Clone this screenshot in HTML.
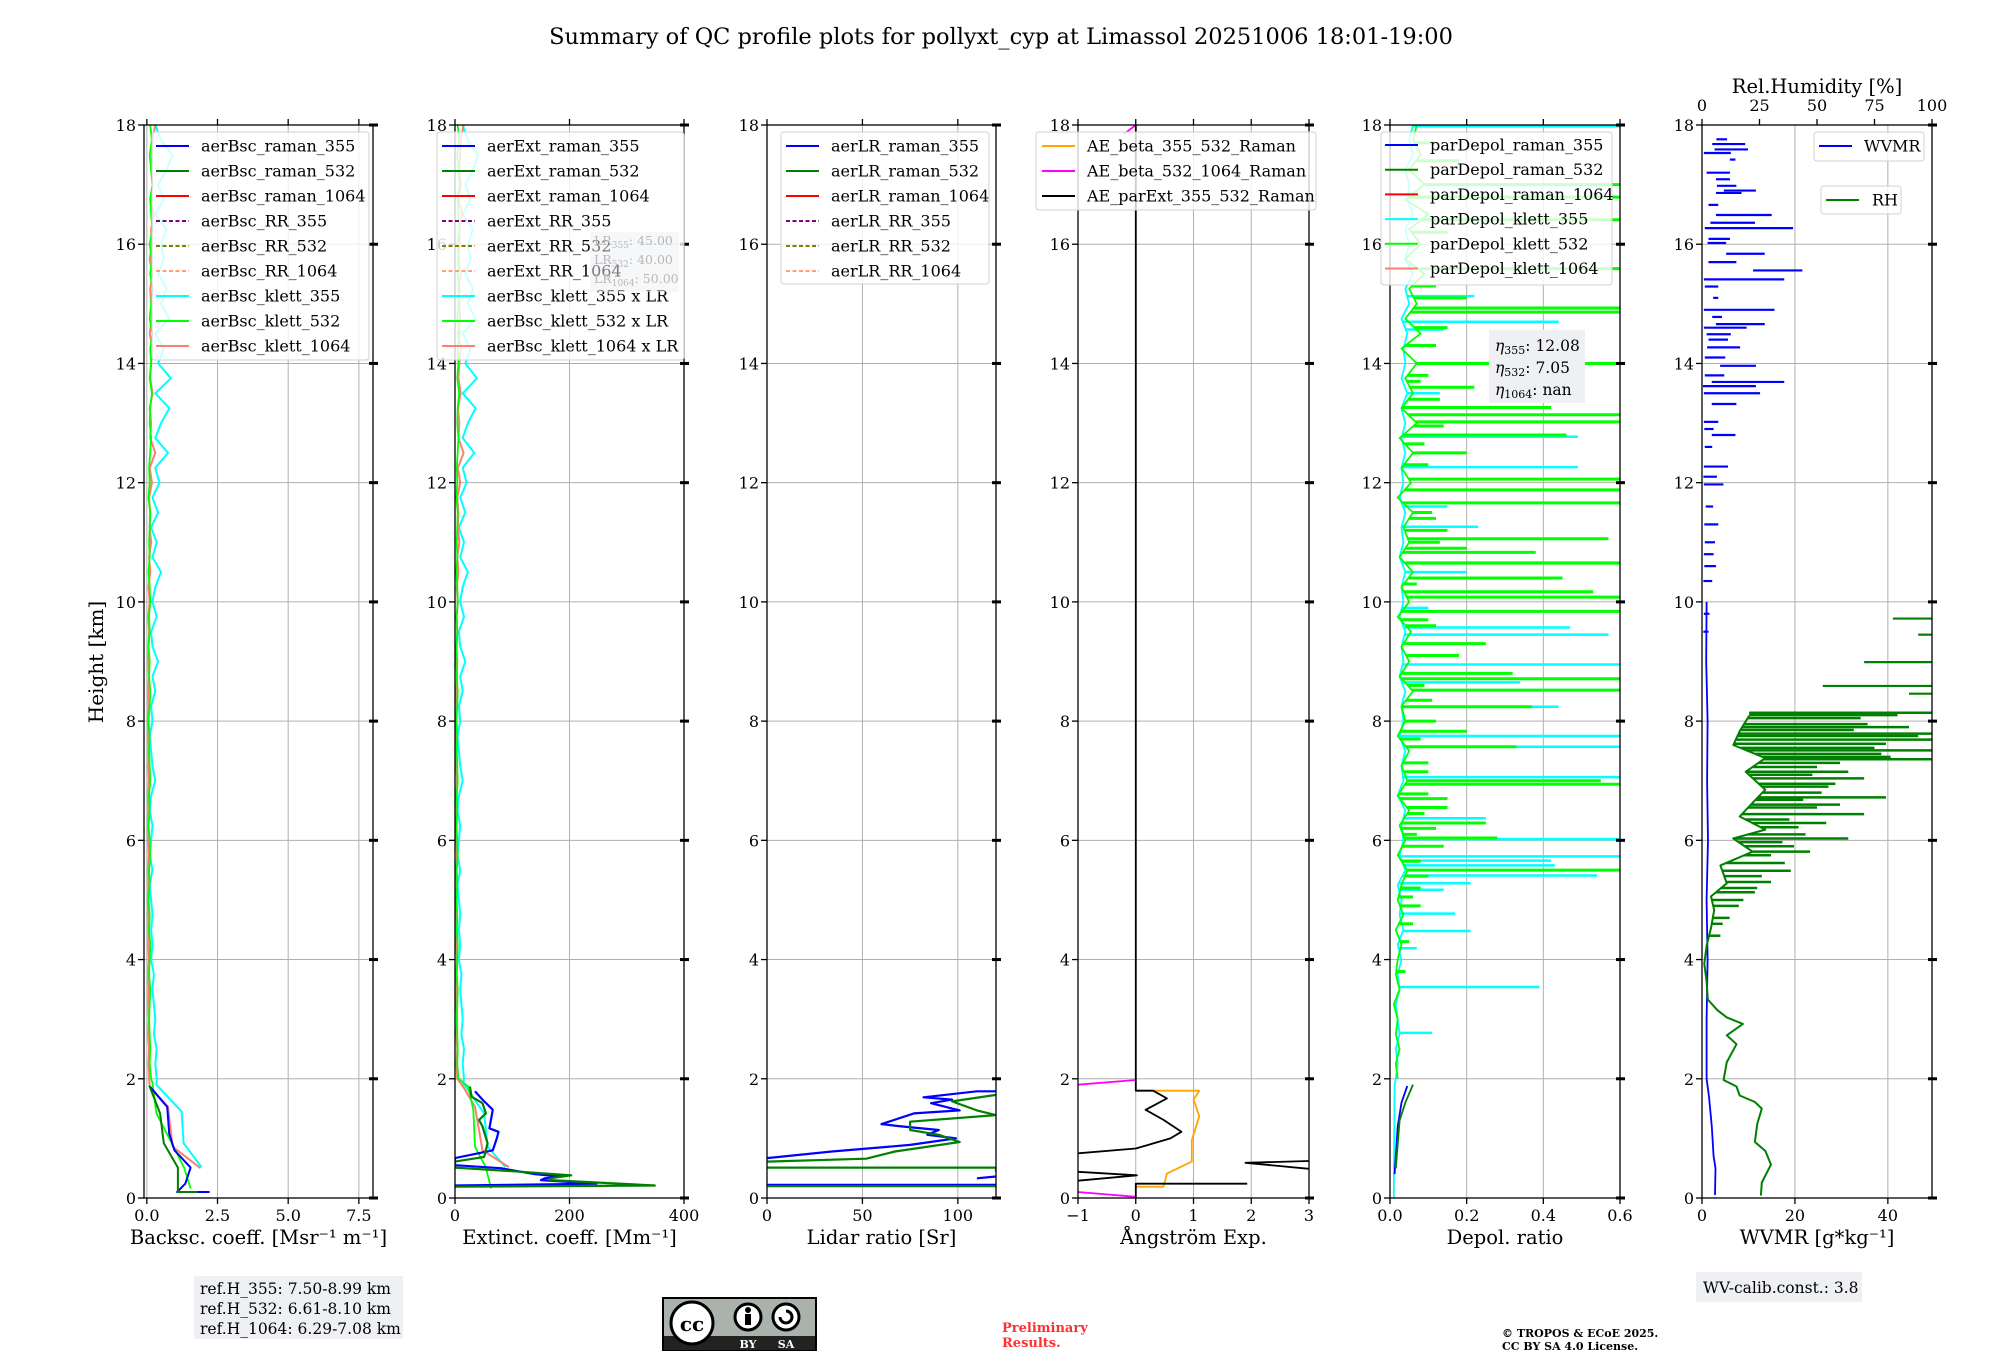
<!DOCTYPE html>
<html><head><meta charset="utf-8">
<style>
html,body{margin:0;padding:0;background:#fff;}
svg text{font-family:"DejaVu Serif","Liberation Serif",serif;}
</style></head>
<body>
<svg id="fig" width="2000" height="1360" viewBox="0 0 2000 1360" xmlns="http://www.w3.org/2000/svg">
<rect width="2000" height="1360" fill="#fff"/>
<text x="1001" y="44" font-size="22.5" text-anchor="middle">Summary of QC profile plots for pollyxt_cyp at Limassol 20251006 18:01-19:00</text>
<text x="0" y="0" font-size="20" text-anchor="middle" transform="translate(103,662) rotate(-90)">Height [km]</text>
<g id="plots"></g>
<rect x="194" y="1276" width="209" height="63" fill="#eef0f4"/>
<text x="200" y="1294" font-size="15.5">ref.H_355: 7.50-8.99 km</text>
<text x="200" y="1314" font-size="15.5">ref.H_532: 6.61-8.10 km</text>
<text x="200" y="1334" font-size="15.5">ref.H_1064: 6.29-7.08 km</text>
<g transform="translate(0,-9)">
<rect x="662" y="1306" width="155" height="54" fill="#000"/>
<rect x="664" y="1308" width="151" height="37" fill="#abb1ab"/>
<rect x="664" y="1345" width="151" height="14" fill="#222"/>
<circle cx="692" cy="1332" r="21" fill="#fff" stroke="#000" stroke-width="3"/>
<text x="692" y="1340" font-size="20" font-weight="bold" text-anchor="middle" font-family="Liberation Sans">cc</text>
<circle cx="748" cy="1326" r="13" fill="#fff" stroke="#000" stroke-width="3"/>
<rect x="745" y="1323" width="6" height="11" fill="#000"/><circle cx="748" cy="1319" r="3" fill="#000"/>
<circle cx="786" cy="1326" r="13" fill="#fff" stroke="#000" stroke-width="3"/>
<path d="M780 1326 a6 6 0 1 0 6 -6" fill="none" stroke="#000" stroke-width="3"/>
<text x="748" y="1357" font-size="11" fill="#fff" font-weight="bold" text-anchor="middle" font-family="Liberation Sans">BY</text>
<text x="786" y="1357" font-size="11" fill="#fff" font-weight="bold" text-anchor="middle" font-family="Liberation Sans">SA</text>
</g>
<text x="1002" y="1332" font-size="13" font-weight="bold" fill="#ff3030">Preliminary</text>
<text x="1002" y="1347" font-size="13" font-weight="bold" fill="#ff3030">Results.</text>
<text x="1502" y="1337" font-size="11" font-weight="bold">© TROPOS &amp; ECoE 2025.</text>
<text x="1502" y="1350" font-size="11" font-weight="bold">CC BY SA 4.0 License.</text>
<rect x="1696" y="1272" width="166" height="30" fill="#eef0f4"/>
<text x="1703" y="1293" font-size="15.5">WV-calib.const.: 3.8</text>
</svg>
<script>
// ---------------- DATA ----------------
const upH = [2,2.25,2.5,2.75,3,3.25,3.5,3.75,4,4.25,4.5,4.75,5,5.25,5.5,5.75,6,6.25,6.5,6.75,7,7.25,7.5,7.75,8,8.25,8.5,8.75,9,9.25,9.5,9.75,10,10.25,10.5,10.75,11,11.25,11.5,11.75,12,12.25,12.5,12.75,13,13.25,13.5,13.75,14,14.25,14.5,14.75,15,15.25,15.5,15.75,16,16.25,16.5,16.75,17,17.25,17.5,17.75,18];
const klett355Up = [0.35,0.3,0.35,0.25,0.3,0.25,0.2,0.25,0.15,0.2,0.15,0.2,0.15,0.1,0.2,0.1,0.15,0.2,0.1,0.15,0.3,0.2,0.15,0.1,0.2,0.15,0.3,0.2,0.4,0.2,0.15,0.35,0.2,0.3,0.5,0.2,0.35,0.15,0.4,0.2,0.45,0.3,0.75,0.3,0.5,0.8,0.3,0.85,0.4,0.6,0.3,0.8,0.5,0.7,0.4,0.6,0.5,0.7,0.3,0.6,0.4,0.7,0.9,0.5,0.3];
const klett532Up = [0.15,0.1,0.12,0.1,0.08,0.1,0.12,0.08,0.1,0.12,0.08,0.1,0.06,0.1,0.08,0.12,0.1,0.06,0.1,0.08,0.12,0.1,0.08,0.1,0.06,0.1,0.12,0.08,0.1,0.06,0.1,0.08,0.12,0.1,0.06,0.1,0.08,0.1,0.12,0.06,0.1,0.08,0.12,0.15,0.1,0.12,0.18,0.1,0.15,0.12,0.2,0.1,0.15,0.2,0.12,0.18,0.1,0.2,0.15,0.12,0.2,0.15,0.1,0.18,0.12];
const klett1064Up = [0.08,0.06,0.08,0.05,0.07,0.05,0.06,0.05,0.07,0.05,0.06,0.05,0.04,0.06,0.05,0.07,0.05,0.04,0.06,0.05,0.07,0.05,0.06,0.05,0.04,0.06,0.05,0.07,0.05,0.06,0.08,0.05,0.1,0.06,0.12,0.08,0.15,0.1,0.12,0.08,0.18,0.1,0.3,0.12,0.15,0.1,0.2,0.12,0.15,0.2,0.1,0.18,0.15,0.12,0.2,0.1,0.18,0.15,0.25,0.12,0.2,0.15,0.18,0.2,0.3];
const bsc355H = [0.1,0.1,0.24,0.51,0.8,1.08,1.53,1.7,1.88];
const bsc355V = [2.22,1.07,1.36,1.55,0.98,0.79,0.72,0.41,0.09];
const bsc532H = [0.1,0.1,0.51,0.92,1.42,1.88];
const bsc532V = [1.8,1.1,1.1,0.6,0.47,0.09];
const klett355LoH = [0.52,0.92,1.45,1.9], klett355LoV = [1.93,1.3,1.23,0.34];
const klett532LoH = [0.16,0.51,0.9,1.42,1.93], klett532LoV = [1.55,1.32,0.9,0.34,0.2];
const klett1064LoH = [0.5,0.86,1.53,1.87], klett1064LoV = [1.9,0.91,0.75,0.1];
const lrKlett = [45,40,50];
const ext355H = [0.21,0.24,0.3,0.33,0.36,0.4,0.5,0.55,0.67,0.8,1.0,1.11,1.17,1.48,1.65,1.79];
const ext355V = [0,247,150,157,184,140,80,0,0,66,73,76,60,66,48,35];
const ext532H = [0.19,0.21,0.3,0.33,0.38,0.45,0.51,0.61,0.69,0.92,1.2,1.31,1.42,1.59,1.7,1.87];
const ext532V = [0,349,166,166,203,100,0,0,51,57,48,42,54,48,29,26];
const extK355LoH = [0.52,0.86,1.42,1.93], extK355LoV = [88,57,51,14];
const extK532LoH = [0.16,0.51,0.86,1.48,1.87], extK532LoV = [63,54,35,32,23];
const extK1064LoH = [0.52,0.8,1.53,1.87], extK1064LoV = [94,48,35,14];
const lr355H = [0.22,0.22,null,0.33,0.36,null,0.67,0.78,0.89,1.0,1.06,1.14,1.2,1.24,1.42,1.47,1.59,1.65,1.69,1.79,1.79];
const lr355V = [120,0,null,110,120,null,0,34,75,99,84,90,71,60,77,101,86,97,82,110,120];
const lr532H = [0.2,0.2,null,0.51,0.51,0.44,null,0.61,0.66,0.78,0.94,1.06,1.14,1.28,1.39,1.47,1.62,1.73];
const lr532V = [0,120,null,0,120,120,null,0,52,67,101,90,75,75,120,110,97,120];
const aeParH = [0,0.24,0.24,null,0.44,0.38,0.29,null,0.75,0.83,1.0,1.11,1.31,1.48,1.67,1.8,1.8,18,null,0.62,0.59,0.49];
const aeParV = [0,0,1.93,null,-1,0.02,-1,null,-1,0,0.6,0.79,0.48,0.17,0.54,0.3,0,0,null,3,1.9,3];
const aeBscH = [0.19,0.19,0.41,0.61,0.97,1.37,1.65,1.8,1.8];
const aeBscV = [0,0.48,0.54,0.97,0.97,1.1,1.0,1.1,0];
const aeBsc2H = [0.1,0.02,null,1.9,1.98,null,17.85,18];
const aeBsc2V = [-1,0,null,-1,0,null,-0.2,0];
const dep355RH = [0.4,1.2,1.6,1.88], dep355RV = [0.012,0.02,0.03,0.045];
const dep532RH = [0.5,1.3,1.6,1.9], dep532RV = [0.015,0.025,0.04,0.06];
const depCyanLoH = [0,1.9], depCyanLoV = [0.01,0.012];
const depLimeBase = [0.02,0.015,0.025,0.015,0.02,0.01,0.025,0.015,0.02,0.03,0.015,0.035,0.02,0.03,0.045,0.02,0.04,0.025,0.05,0.02,0.045,0.03,0.05,0.02,0.04,0.03,0.06,0.025,0.05,0.03,0.055,0.02,0.05,0.03,0.06,0.025,0.05,0.035,0.06,0.02,0.055,0.03,0.06,0.025,0.07,0.03,0.06,0.04,0.07,0.03,0.08,0.04,0.07,0.05,0.09,0.04,0.08,0.05,0.1,0.04,0.09,0.05,0.08,0.06,0.07];
const depCyanBase = [0.015,0.02,0.015,0.025,0.02,0.015,0.025,0.02,0.03,0.02,0.035,0.025,0.03,0.02,0.04,0.025,0.035,0.03,0.04,0.02,0.035,0.03,0.04,0.025,0.035,0.03,0.04,0.025,0.035,0.03,0.04,0.025,0.035,0.03,0.04,0.025,0.035,0.03,0.04,0.025,0.035,0.03,0.04,0.03,0.04,0.03,0.045,0.03,0.04,0.035,0.045,0.03,0.05,0.04,0.06,0.04,0.05,0.04,0.06,0.045,0.05,0.04,0.06,0.05,0.06];
const depLimeSpikeH = [14.93,14.86,14.0,13.26,13.14,13.02,12.8,12.06,11.88,11.66,11.06,10.83,10.65,10.4,10.17,10.08,9.84,17.0,16.79,15.59,16.41,8.71,8.52,8.8,8.24,7.83,7.57,7.0,6.94,6.78,6.55,6.29,6.04,5.5,5.2,14.6,14.3,13.6,13.4,12.5,12.3,11.4,11.2,10.9,9.3,9.1,8.0,7.3,6.7,6.2,5.9,5.4,4.9,4.6,4.3,3.8,15.3,15.1,16.2,17.4,17.7,13.8,13.7,12.95,12.65,11.5,11.0,10.3,9.7,9.6,8.6,8.35,7.7,7.15,6.45,6.1,5.65,5.05];
const depLimeSpikeV = [0.6,0.6,0.6,0.42,0.6,0.6,0.46,0.6,0.6,0.6,0.57,0.38,0.6,0.45,0.53,0.6,0.6,0.6,0.6,0.6,0.6,0.6,0.6,0.32,0.37,0.2,0.33,0.55,0.6,0.1,0.15,0.25,0.28,0.6,0.08,0.15,0.12,0.22,0.13,0.2,0.1,0.12,0.15,0.2,0.25,0.18,0.12,0.1,0.15,0.12,0.14,0.1,0.08,0.06,0.05,0.04,0.12,0.2,0.15,0.18,0.12,0.1,0.08,0.14,0.09,0.11,0.13,0.07,0.1,0.12,0.09,0.11,0.08,0.1,0.09,0.07,0.08,0.06];
const depCyanSpikeH = [17.98,15.13,14.7,14.57,12.77,12.26,11.26,10.66,9.57,9.45,8.95,8.65,8.24,7.75,7.57,7.06,6.37,6.02,5.73,5.66,5.58,5.41,5.28,5.17,4.77,4.48,3.54,2.77,4.19,10.5,13.5,11.6,9.9];
const depCyanSpikeV = [0.6,0.22,0.44,0.14,0.49,0.49,0.23,0.6,0.47,0.57,0.6,0.34,0.44,0.6,0.6,0.6,0.25,0.6,0.6,0.42,0.43,0.54,0.21,0.14,0.17,0.21,0.39,0.11,0.07,0.2,0.13,0.15,0.1];
const wvH = [0.05,0.5,0.7,1.2,1.7,2.0,3,4,5,6,7,8,9,10];
const wvV = [2.8,2.9,2.5,2.1,1.5,1.0,1.0,1.2,1.0,1.3,1.1,1.2,0.9,1.0];
const wvSegH = [17.76,17.68,17.59,17.53,17.42,17.2,17.09,16.98,16.9,16.86,16.66,16.49,16.36,16.27,16.09,16.02,15.84,15.7,15.56,15.41,15.29,15.1,14.9,14.78,14.66,14.6,14.49,14.4,14.27,14.1,13.96,13.8,13.69,13.62,13.5,13.32,13.02,12.8,12.27,11.97,12.9,12.6,12.1,11.6,11.3,11.0,10.8,10.6,10.35,9.8,9.5];
const wvSegA = [3.1,2.2,2.7,0.4,6,1,3,3.2,4.7,3,1.4,3,1.8,0.6,1.4,1.2,5.2,1.4,11,0.4,0.6,2.4,0.4,2.2,3,0.4,1,1.4,1.1,0.6,3.9,0.6,2.1,0.2,0.4,2.1,0.4,2.1,0.4,0.4,0.5,0.6,0.3,0.8,0.5,0.6,0.4,0.5,0.3,0.4,0.3];
const wvSegB = [5.4,9.3,9.9,6.2,7.2,6,6,7.4,11.6,8.5,3.5,15,11.4,19.6,6,5.2,13.5,7.4,21.6,17.7,3.5,3.5,15.6,4.3,13.5,9.6,6.2,5.6,8.2,5,11.6,4.8,17.7,11.6,12.5,7.4,3.5,7.2,5.6,4.6,2.5,2.2,3.2,2.4,3.5,2.8,2.5,3.0,2.2,1.6,1.4];
const rhH = [0.04,0.26,0.56,0.79,0.94,1.24,1.5,1.61,1.72,1.87,1.98,2.28,2.58,2.73,2.92,3.03,3.15,3.33,3.63,3.93,4.23,4.53,4.83,5.06,5.28,5.58,5.81,6.03,6.18,6.4,6.63,6.85,7.15,7.38,7.6,7.83,8.09];
const rhV = [25.6,26,30,27.5,23,24,26,23,16.4,15,9.4,10.8,15,10.8,17.8,10.8,6.7,2.5,2,1,2,3.9,5.3,3.9,10.8,8,22,13.6,27.5,16.4,22,27.5,19,27.5,13.6,16.4,20.5];
const rhSpikeH = [8.14,8.05,7.79,7.69,7.51,7.36,7.4,7.04,7.15,6.72,6.44,6.03,5.81,5.49,5.13,6.29,7.23,6.6,6.1,5.9,5.3,7.9,7.55,6.9,4.9,4.7,8.1,7.95,7.85,7.75,7.62,7.45,7.3,7.1,6.95,6.8,6.68,6.55,6.35,6.22,5.97,5.75,5.62,5.4,5.2,5.0,4.6,4.4];
const rhSpikeV = [100,69,100,100,100,100,82,70.5,63.6,80,70.5,63.6,47,38.6,23,54,50,60,45,40,30,90,75,55,16,12,85,72,66,94,80,78,60,48,58,52,44,50,38,42,35,30,36,26,24,18,9,8];
const rhSegH = [8.59,8.46,8.99,9.72,9.45];
const rhSegA = [52.5,90,70.5,83,94];
const rhSegB = [100,100,100,100,100];

// ---------------- AXES ----------------
const NS = 'http://www.w3.org/2000/svg';
const Y0 = 1198, PXKM = 1073/18;
const yH = h => Y0 - h*PXKM;
const AX = [
 {x0:144,w:229,min:-0.1,max:8.0,ticks:[0,2.5,5,7.5],lab:['0.0','2.5','5.0','7.5'],name:'backscatter'},
 {x0:455,w:229,min:0,max:400,ticks:[0,200,400],lab:['0','200','400'],name:'extinction'},
 {x0:767,w:229,min:0,max:120,ticks:[0,50,100],lab:['0','50','100'],name:'lidar-ratio'},
 {x0:1078,w:231,min:-1,max:3,ticks:[-1,0,1,2,3],lab:['\u22121','0','1','2','3'],name:'angstrom'},
 {x0:1390,w:230,min:0,max:0.6,ticks:[0,0.2,0.4,0.6],lab:['0.0','0.2','0.4','0.6'],name:'depol'},
 {x0:1702,w:230,min:0,max:49.5,ticks:[0,20,40],lab:['0','20','40'],name:'wvmr'}
];
const XLAB = ['Backsc. coeff. [Msr\u207B\u00B9 m\u207B\u00B9]','Extinct. coeff. [Mm\u207B\u00B9]','Lidar ratio [Sr]','\u00C5ngstr\u00F6m Exp.','Depol. ratio','WVMR [g*kg\u207B\u00B9]'];
const root = document.getElementById('plots');
function mk(tag, attrs, parent){
  const e = document.createElementNS(NS, tag);
  for (const k in attrs) e.setAttribute(k, attrs[k]);
  (parent||root).appendChild(e); return e;
}
function xf(a, v){ return a.x0 + (v - a.min)/(a.max - a.min)*a.w; }

const defs = mk('defs', {});
const layers = [];
AX.forEach((a,i)=>{
  const cp = mk('clipPath',{id:'cp'+i},defs);
  mk('rect',{x:a.x0,y:yH(18),width:a.w,height:Y0-yH(18)},cp);
  const g = mk('g',{});
  
  
  for (let h=0; h<=18; h+=2){
    const l = mk('line',{x1:a.x0,x2:a.x0+a.w,y1:yH(h),y2:yH(h),stroke:'#b0b0b0','stroke-width':1},g);
    
    
  }
  a.ticks.forEach(t=>{
    const x = xf(a,t);
    const l = mk('line',{x1:x,x2:x,y1:yH(18),y2:Y0,stroke:'#b0b0b0','stroke-width':1},g);
    
    
  });
  const data = mk('g',{'clip-path':'url(#cp'+i+')'},g);
  
  
  layers.push({g, data});
});

function line(i, hs, vs, color, w, dash, name){
  const a = AX[i]; let d=''; let pen=false;
  for (let k=0;k<hs.length;k++){
    if (hs[k]===null || vs[k]===null){ pen=false; continue; }
    d += (pen?'L':'M') + xf(a,vs[k]).toFixed(1)+' '+yH(hs[k]).toFixed(1)+' ';
    pen = true;
  }
  const p = mk('path',{d, fill:'none', stroke:color,'stroke-width':w,'stroke-linejoin':'round'}, layers[i].data);
  if (dash) p.setAttribute('stroke-dasharray', dash);
  
  
  return p;
}
function seg(i, h, v1, v2, color, w, name){
  const a = AX[i];
  const p = mk('line',{x1:xf(a,v1),x2:xf(a,v2),y1:yH(h),y2:yH(h),stroke:color,'stroke-width':w}, layers[i].data);
  
  
}
function interp(hs, vs, h){
  for (let k=1;k<hs.length;k++){
    if (vs[k]===null||vs[k-1]===null) continue;
    if (h>=hs[k-1] && h<=hs[k]) return vs[k-1] + (vs[k]-vs[k-1])*(h-hs[k-1])/(hs[k]-hs[k-1]);
  }
  return vs[vs.length-1];
}

line(0, klett355LoH.concat(upH), klett355LoV.concat(klett355Up), '#00ffff', 2, null, 'klett-355-backscatter');
line(0, klett1064LoH.concat(upH), klett1064LoV.concat(klett1064Up), '#fa8072', 2, null, 'klett-1064-backscatter');
line(0, klett532LoH.concat(upH), klett532LoV.concat(klett532Up), '#00ff00', 1.8, null, 'klett-532-backscatter');
line(0, bsc355H, bsc355V, '#0000ff', 2, null, 'raman-355-backscatter');
line(0, bsc532H, bsc532V, '#008000', 2, null, 'raman-532-backscatter');

line(1, extK355LoH.concat(upH), extK355LoV.concat(klett355Up.map(v=>v*lrKlett[0])), '#00ffff', 2, null, 'klett-355-extinction');
line(1, extK1064LoH.concat(upH), extK1064LoV.concat(klett1064Up.map(v=>v*lrKlett[2])), '#fa8072', 2, null, 'klett-1064-extinction');
line(1, extK532LoH.concat(upH), extK532LoV.concat(klett532Up.map(v=>v*lrKlett[1])), '#00ff00', 1.8, null, 'klett-532-extinction');
line(1, ext355H, ext355V, '#0000ff', 2.2, null, 'raman-355-extinction');
line(1, ext532H, ext532V, '#008000', 2.2, null, 'raman-532-extinction');

line(2, lr355H, lr355V, '#0000ff', 2.2, null, 'raman-355-lidar-ratio');
line(2, lr532H, lr532V, '#008000', 2.2, null, 'raman-532-lidar-ratio');

line(3, aeBsc2H, aeBsc2V, '#ff00ff', 1.8, null, 'ae-beta-532-1064');
line(3, aeBscH, aeBscV, '#ffa500', 1.8, null, 'ae-beta-355-532');
line(3, aeParH, aeParV, '#000000', 1.8, null, 'ae-parext-355-532');

line(4, depCyanLoH.concat(upH), depCyanLoV.concat(depCyanBase), '#00ffff', 1.8, null, 'klett-355-depol');
depCyanSpikeH.forEach((h,k)=>seg(4, h, interp(upH,depCyanBase,h), depCyanSpikeV[k], '#00ffff', 2.5, 'klett-355-depol-spike'));
line(4, upH, depLimeBase, '#00ff00', 1.8, null, 'klett-532-depol');
depLimeSpikeH.forEach((h,k)=>seg(4, h, interp(upH,depLimeBase,h), depLimeSpikeV[k], '#00ff00', 3, 'klett-532-depol-spike'));
line(4, dep355RH, dep355RV, '#0000ff', 1.8, null, 'raman-355-depol');
line(4, dep532RH, dep532RV, '#008000', 1.8, null, 'raman-532-depol');

line(5, wvH, wvV, '#0000ff', 1.8, null, 'wvmr-profile');
wvSegH.forEach((h,k)=>seg(5, h, wvSegA[k], wvSegB[k], '#0000ff', 2.2, 'wvmr-segment'));
const rhScale = 49.5/100;
line(5, rhH, rhV.map(v=>v*rhScale), '#008000', 2, null, 'rh-profile');
rhSpikeH.forEach((h,k)=>seg(5, h, interp(rhH,rhV,h)*rhScale, rhSpikeV[k]*rhScale, '#008000', 2.5, 'rh-spike'));
rhSegH.forEach((h,k)=>seg(5, h, rhSegA[k]*rhScale, rhSegB[k]*rhScale, '#008000', 2.2, 'rh-segment'));

AX.forEach((a,i)=>{
  const g = layers[i].g;
  const fr = mk('rect',{x:a.x0,y:yH(18),width:a.w,height:Y0-yH(18),fill:'none',stroke:'#000','stroke-width':1.3},g);
  
  
  for (let h=0; h<=18; h+=2){
    mk('line',{x1:a.x0-6,x2:a.x0,y1:yH(h),y2:yH(h),stroke:'#000','stroke-width':1.3},g);
    mk('line',{x1:a.x0+a.w-4,x2:a.x0+a.w+5,y1:yH(h),y2:yH(h),stroke:'#000','stroke-width':3},g);
    const t = mk('text',{x:a.x0-8,y:yH(h)+6,'font-size':16,'text-anchor':'end'},g);
    t.textContent = String(h);
    
    
  }
  a.ticks.forEach((v,k)=>{
    const x = xf(a,v);
    mk('line',{x1:x,x2:x,y1:Y0,y2:Y0+6,stroke:'#000','stroke-width':1.3},g);
    if (i!==5) mk('line',{x1:x,x2:x,y1:yH(18)-6,y2:yH(18),stroke:'#000','stroke-width':1.3},g);
    const t = mk('text',{x:x,y:Y0+23,'font-size':16,'text-anchor':'middle'},g);
    t.textContent = a.lab[k];
    
    
  });
  const xl = mk('text',{x:a.x0+a.w/2,y:1244,'font-size':19.5,'text-anchor':'middle'},g);
  xl.textContent = XLAB[i];
  
  
});
[0,25,50,75,100].forEach(v=>{
  const x = 1702 + v/100*230;
  mk('line',{x1:x,x2:x,y1:yH(18)-6,y2:yH(18),stroke:'#000','stroke-width':1.3},layers[5].g);
  const t = mk('text',{x:x,y:111,'font-size':16,'text-anchor':'middle'},layers[5].g);
  t.textContent = String(v);
  
  
});
const rht = mk('text',{x:1817,y:93,'font-size':19.5,'text-anchor':'middle'},layers[5].g);
rht.textContent = 'Rel.Humidity [%]';



function legend(x, y, w, h, lx, tx, y0, dy, entries, name){
  const g = mk('g',{});
  
  
  mk('rect',{x, y, width:w, height:h, rx:3, fill:'#fff','fill-opacity':0.8, stroke:'#d0d0d0','stroke-width':1},g);
  entries.forEach((e,k)=>{
    const yy = y0 + k*dy;
    const l = mk('line',{x1:lx, x2:lx+33, y1:yy, y2:yy, stroke:e[1], 'stroke-width':2},g);
    if (e[2]) l.setAttribute('stroke-dasharray','4 2.5');
    const t = mk('text',{x:tx, y:yy+5.5, 'font-size':16},g);
    t.textContent = e[0];
    
    
  });
}
const C = {b:'#0000ff',g:'#008000',r:'#ff0000',p:'#800080',o:'#808000',ls:'#ffa07a',c:'#00ffff',l:'#00ff00',s:'#fa8072'};
legend(152,132,217,228,156,201,146,25,[['aerBsc_raman_355',C.b],['aerBsc_raman_532',C.g],['aerBsc_raman_1064',C.r],['aerBsc_RR_355',C.p,1],['aerBsc_RR_532',C.o,1],['aerBsc_RR_1064',C.ls,1],['aerBsc_klett_355',C.c],['aerBsc_klett_532',C.l],['aerBsc_klett_1064',C.s]],'backscatter-legend');
legend(437,132,247,228,442,487,146,25,[['aerExt_raman_355',C.b],['aerExt_raman_532',C.g],['aerExt_raman_1064',C.r],['aerExt_RR_355',C.p,1],['aerExt_RR_532',C.o,1],['aerExt_RR_1064',C.ls,1],['aerBsc_klett_355 x LR',C.c],['aerBsc_klett_532 x LR',C.l],['aerBsc_klett_1064 x LR',C.s]],'extinction-legend');
legend(781,132,208,152,786,831,146,25,[['aerLR_raman_355',C.b],['aerLR_raman_532',C.g],['aerLR_raman_1064',C.r],['aerLR_RR_355',C.p,1],['aerLR_RR_532',C.o,1],['aerLR_RR_1064',C.ls,1]],'lidar-ratio-legend');
legend(1036,132,280,78,1042,1087,146,25,[['AE_beta_355_532_Raman','#ffa500'],['AE_beta_532_1064_Raman','#ff00ff'],['AE_parExt_355_532_Raman','#000']],'angstrom-legend');
legend(1381,132,231,153,1385,1430,145,24.7,[['parDepol_raman_355',C.b],['parDepol_raman_532',C.g],['parDepol_raman_1064',C.r],['parDepol_klett_355',C.c],['parDepol_klett_532',C.l],['parDepol_klett_1064',C.s]],'depol-legend');
legend(1814,132,110,29,1819,1864,146,25,[['WVMR',C.b]],'wvmr-legend');
legend(1821,186,80,28,1826,1872,200,25,[['RH',C.g]],'rh-legend');

(function(){
  const g = mk('g',{});
  
  
  mk('rect',{x:590,y:232,width:89,height:60,fill:'#eef0f4','fill-opacity':0.5},g);
  [['LR','355',': 45.00',245],['LR','532',': 40.00',264],['LR','1064',': 50.00',283]].forEach(r=>{
    const t = mk('text',{x:594,y:r[3],'font-size':12.5,fill:'#b8b8b8'},g);
    t.innerHTML = r[0]+'<tspan font-size="9" dy="3">'+r[1]+'</tspan><tspan dy="-3">'+r[2]+'</tspan>';
  });
  const g2 = mk('g',{});
  
  
  mk('rect',{x:1489,y:330,width:96,height:73,fill:'#eef0f4'},g2);
  [['355',': 12.08',351],['532',': 7.05',373],['1064',': nan',395]].forEach(r=>{
    const t = mk('text',{x:1495,y:r[2],'font-size':15.5},g2);
    t.innerHTML = '<tspan font-style="italic">\u03B7</tspan><tspan font-size="11" dy="3">'+r[0]+'</tspan><tspan dy="-3">'+r[1]+'</tspan>';
  });
})();
</script>
</body></html>
